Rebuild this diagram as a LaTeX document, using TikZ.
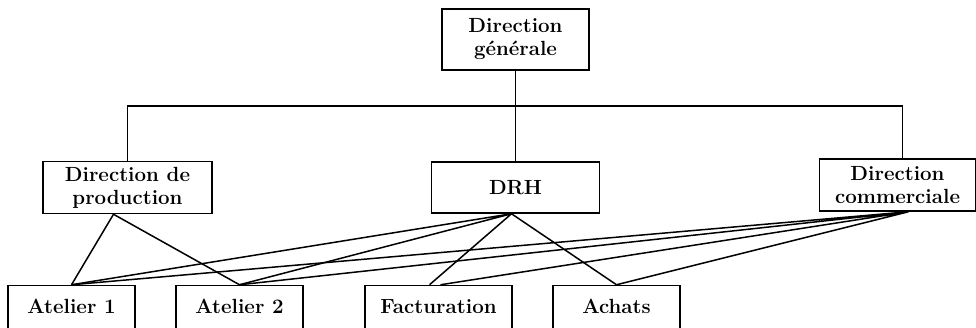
\documentclass[tikz,border=0pt]{standalone}
\usepackage{tikz}
\usetikzlibrary{positioning}

\tikzset{
  unit/.style={draw,align=center,inner sep=0pt,
    font=\bfseries\fontsize{20.5}{23}\selectfont},
  service/.style={draw,inner xsep=0pt,inner ysep=0pt,
    text height=28pt,text depth=20pt,
    font=\bfseries\fontsize{20.5}{23}\selectfont},
}

\begin{document}
\begin{tikzpicture}[x=1pt,y=1pt,node distance=2cm,on grid,line width=1.5pt]
  \useasboundingbox (0,0) rectangle (976,-327);
  % top and middle level
  \node[unit,minimum width=147pt,minimum height=61pt] (dg) at (515.5,-39.5) {Direction\\générale};
  \node[unit,minimum width=168pt,minimum height=51pt] (drh) [below=148pt of dg] {DRH};
  \node[unit,minimum width=169pt,minimum height=52pt] (dp) [left=388pt of drh] {Direction de\\production};
  \node[unit,minimum width=156pt,minimum height=52pt] (dc) [above right=2.5pt and 382pt of drh] {Direction\\commerciale};
  % bottom level
  \node[service,minimum width=127pt] (a1) [below left=122pt and 56pt of dp] {Atelier 1};
  \node[service,minimum width=127pt] (a2) [right=168pt of a1] {Atelier 2};
  \node[service,minimum width=147pt] (fac) [right=199pt of a2] {Facturation};
  \node[service,minimum width=127pt] (ach) [right=178pt of fac] {Achats};
  % tree
  \coordinate (bar) at ([yshift=-35pt]dg.south);
  \draw (dg.south) -- (bar);
  \draw (dp.north) |- (bar) -| ([xshift=5pt]dc.north);
  \draw (bar) -- (drh.north);
  % links
  \draw ([xshift=-14pt]dp.south) -- (a1.north)
        ([xshift=-14pt]dp.south) -- (a2.north);
  \draw ([xshift=-4pt]drh.south) -- (a1.north)
        ([xshift=-4pt]drh.south) -- (a2.north)
        ([xshift=-4pt]drh.south) -- ([xshift=-9pt]fac.north)
        ([xshift=-4pt]drh.south) -- (ach.north);
  \draw ([xshift=11pt]dc.south) -- (a1.north)
        ([xshift=11pt]dc.south) -- (a2.north)
        ([xshift=11pt]dc.south) -- ([xshift=2pt]fac.north)
        ([xshift=11pt]dc.south) -- (ach.north);
\end{tikzpicture}
\end{document}
